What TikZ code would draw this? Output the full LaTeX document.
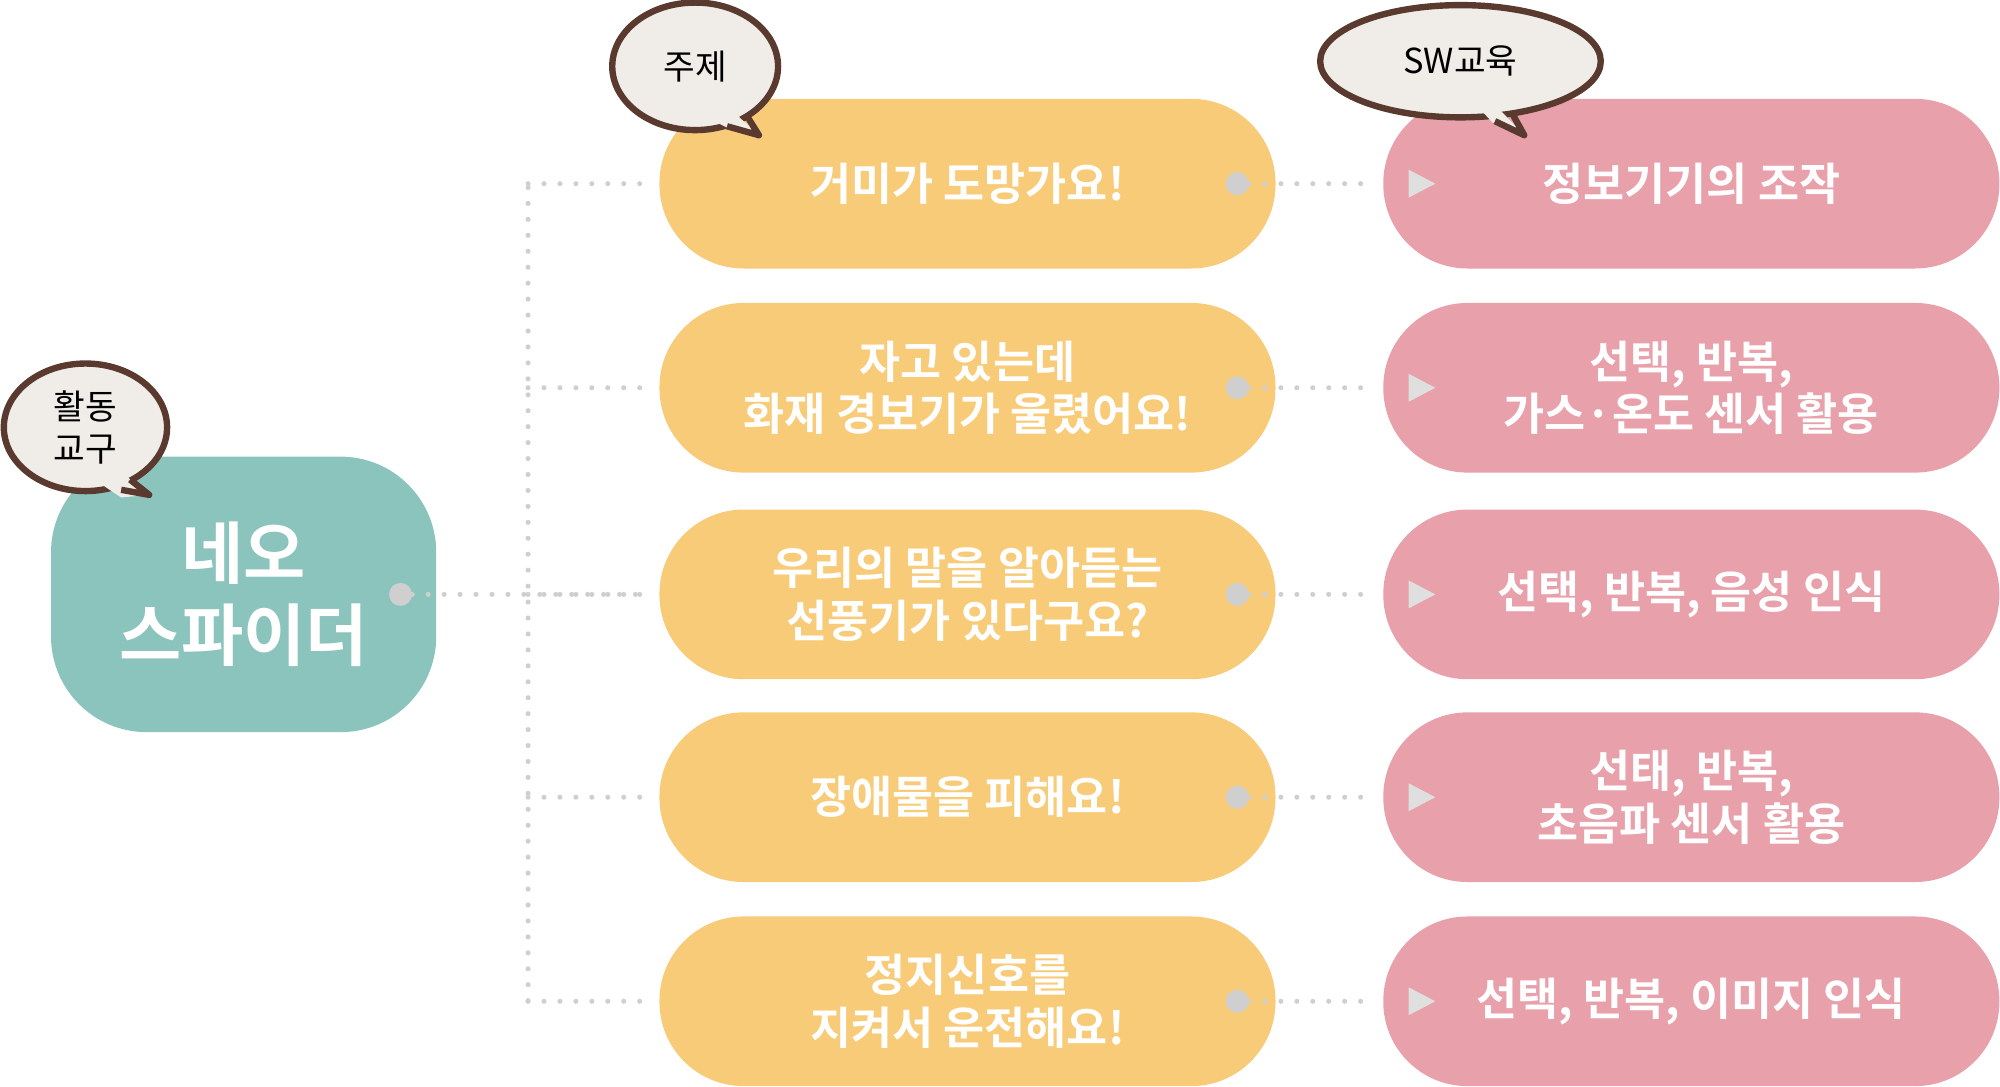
\documentclass[tikz,border=0pt]{standalone}
\usepackage{fontspec}
\newfontfamily\kr{Noto Sans CJK KR}[BoldFont={Noto Sans CJK KR Bold}]
\begin{document}
\begin{tikzpicture}[x=1pt,y=-1pt,
 box/.style={minimum width=483pt,minimum height=133pt,rounded corners=66pt,align=center,text=white,font=\kr\bfseries\fontsize{35}{41}\selectfont,inner sep=0pt},
 yel/.style={box,fill=yel},
 pnk/.style={box,fill=pnk},
 dot/.style={circle,fill=dotc,minimum size=18pt,inner sep=0pt},
 dl/.style={draw=dotc,line width=4pt,line cap=round,dash pattern=on 0pt off 12.5pt},
 bub/.style={fill=bubf,draw=bubd,line width=5pt},
 btxt/.style={font=\kr\fontsize{27}{33}\selectfont,align=center,text=black}]
\definecolor{yel}{HTML}{F8CB78}
\definecolor{pnk}{HTML}{E8A0AA}
\definecolor{teal1}{HTML}{8BC3BD}
\definecolor{dotc}{HTML}{CFCFCF}
\definecolor{bubf}{HTML}{F0EDE8}
\definecolor{bubd}{HTML}{5A3A2E}
\useasboundingbox (0,0) rectangle (1568,852);
\node[box,fill=teal1,minimum width=302pt,minimum height=216pt,rounded corners=75pt,font=\kr\bfseries\fontsize{53}{64}\selectfont] (neo) at (191,466) {네오\\스파이더};
\node[dot] (d0) at (314,466) {};
\coordinate (vt) at (414,147);
\coordinate (vb) at (414,785);
\draw[dl] (vt) -- (vb);
\draw[dl] (d0) -- (500,466);
\foreach \i/\y/\a/\b in {1/144/{거미가 도망가요!}/{정보기기의 조작},
 2/304/{자고 있는데\\화재 경보기가 울렸어요!}/{선택, 반복,\\가스·온도 센서 활용},
 3/466/{우리의 말을 알아듣는\\선풍기가 있다구요?}/{선택, 반복, 음성 인식},
 4/625/{장애물을 피해요!}/{선태, 반복,\\초음파 센서 활용},
 5/785/{정지신호를\\지켜서 운전해요!}/{선택, 반복, 이미지 인식}}{
 \node[yel] (y\i) at (758.5,\y) {\a};
 \node[pnk] (p\i) at (1326,\y) {\b};
 \node[dot] (dy\i) at (970,\y) {};
 \coordinate (h\i) at (414,\y);
 \draw[dl] (h\i) -- ([xshift=-12pt]y\i.west);
 \draw[dl] (dy\i) -- ([xshift=-12pt]p\i.west);
 \fill[white!75!gray] ([xshift=20pt]p\i.west) ++(0,-11) -- ++(21,11) -- ++(-21,11) -- cycle;
}
% bubbles
\draw[bub] (67,335) ellipse (64 and 50);
\fill[bubf] (95,370) -- (117,388) -- (95,390) -- (80,380) -- cycle;
\draw[bubd,line width=5pt,line join=round] (102,376) -- (117,388) -- (95,384);
\node[btxt] (b1) at (67,335) {활동\\교구};
\draw[bub] (545,52) ellipse (65 and 50);
\fill[bubf] (572,85) -- (595,106) -- (570,100) -- (560,95) -- cycle;
\draw[bubd,line width=5pt,line join=round] (585,90) -- (595,106) -- (570,99);
\node[btxt] (b2) at (545,52) {주제};
\draw[bub] (1145,48) ellipse (110 and 44);
\fill[bubf] (1170,80) -- (1195,106) -- (1170,96) -- (1160,85) -- cycle;
\draw[bubd,line width=5pt,line join=round] (1185,88) -- (1195,106) -- (1172,95);
\node[btxt] (b3) at (1145,48) {SW교육};
\end{tikzpicture}
\end{document}
